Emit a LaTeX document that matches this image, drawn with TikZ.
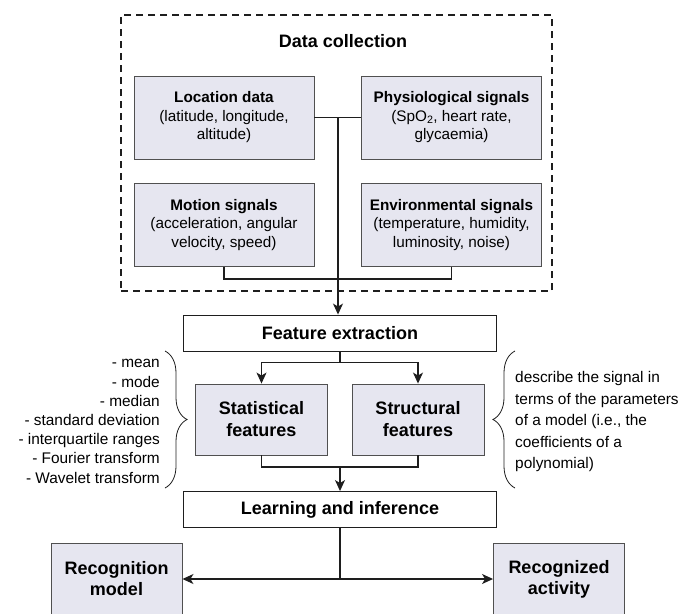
\documentclass[tikz,border=0pt]{standalone}
\usepackage{fontspec}
\setmainfont{Liberation Sans}
\usepackage{xcolor}
\usepackage{tikz}
\usetikzlibrary{positioning, arrows.meta, decorations.pathreplacing}

\definecolor{boxfill}{HTML}{E6E6F0}
\definecolor{boxline}{HTML}{505050}
\definecolor{wire}{HTML}{1E1E1E}

\tikzset{
  srcbox/.style={draw=boxline, line width=0.9pt, fill=boxfill, minimum width=180pt, minimum height=83pt, inner sep=0pt, align=center, font=\fontsize{15.3}{18.5}\selectfont},
  stagebox/.style={draw=wire, line width=0.9pt, fill=white, minimum width=312.5pt, minimum height=36pt, inner sep=0pt, font=\bfseries\fontsize{18}{22}\selectfont},
  featbox/.style={draw=boxline, line width=0.9pt, fill=boxfill, minimum width=132pt, minimum height=71pt, inner sep=0pt, align=center, font=\bfseries\fontsize{18}{22}\selectfont},
  outbox/.style={featbox, minimum width=131pt, minimum height=72pt, font=\bfseries\fontsize{18}{21}\selectfont},
  groupframe/.style={draw=wire, dash pattern=on 7pt off 5pt, line width=1.8pt},
  note/.style={inner sep=0pt, font=\fontsize{15.4}{19.2}\selectfont},
  link/.style={draw=wire, line width=1.2pt},
  curly/.style={draw=wire, line width=0.8pt, decorate, decoration={brace, amplitude=22pt}}
}

\begin{document}
\begin{tikzpicture}[x=1pt, y=-1pt, node distance=107.5pt, >={Stealth[length=11pt, width=10pt, inset=3pt]}]

        \useasboundingbox (0,0) rectangle (693,613);
        \clip (0,0) rectangle (693,613);

        \node (frame) [groupframe, minimum width=431pt, minimum height=276pt] at (336.5,153) {};
        \node (collect) [font=\bfseries\fontsize{18}{22}\selectfont] at (343,41) {Data collection};

        \node (loc) [srcbox] at (224,117.5) {\textbf{Location data}\\(latitude, longitude,\\altitude)};
        \node (phys) [srcbox, right of=loc, node distance=227.5pt] {\textbf{Physiological signals}\\(SpO\textsubscript{2}, heart rate,\\glycaemia)};
        \node (motion) [srcbox, below of=loc] {\textbf{Motion signals}\\(acceleration, angular\\velocity, speed)};
        \node (env) [srcbox, below of=phys] {\textbf{Environmental signals}\\(temperature, humidity,\\luminosity, noise)};

        \node (fe) [stagebox] at (340,333) {Feature extraction};
        \node (stat) [featbox, below of=fe, node distance=86.5pt, xshift=-78.5pt] {Statistical\\features};
        \node (struct) [featbox, right of=stat, node distance=156.5pt] {Structural\\features};
        \node (learn) [stagebox, below of=fe, node distance=176.5pt] {Learning and inference};

        \node (recmodel) [outbox] at (116.5,579) {Recognition\\model};
        \node (recact) [outbox, right of=recmodel, node distance=442.5pt] {Recognized\\activity};

        \node (statlist) [note, anchor=east, align=right] at (160,421.5) {- mean\\- mode\\- median\\- standard deviation\\- interquartile ranges\\- Fourier transform\\- Wavelet transform};
        \node (structnote) [note, anchor=west, align=left, font=\fontsize{15.4}{21.5}\selectfont] at (515,422) {describe the signal in\\terms of the parameters\\of a model (i.e., the\\coefficients of a\\polynomial)};

        \draw [curly] (165,351) -- (165,488);
        \draw [curly] (515,488) -- (515,351);

        \coordinate (split) at (338,117.5);
        \coordinate (gather) at (338,279);
        \coordinate (merge) at (340,467);
        \coordinate (fork) at (340,579);

        \draw [link] (loc.east) -- (phys.west);
        \draw [link] (motion.south) |- (gather) -| (env.south);
        \draw [link, ->] (split) -- (split |- fe.north);

        \draw [link, ->] (fe.south) -- ++(0,11) -| (stat.north);
        \draw [link, ->] (fe.south) -- ++(0,11) -| (struct.north);
        \draw [link] (stat.south) |- (merge) -| (struct.south);
        \draw [link, ->] (merge) -- (learn.north);

        \draw [link] (learn.south) -- (fork);
        \draw [link, ->] (fork) -- (recmodel.east);
        \draw [link, ->] (fork) -- (recact.west);
    \end{tikzpicture}
\end{document}
